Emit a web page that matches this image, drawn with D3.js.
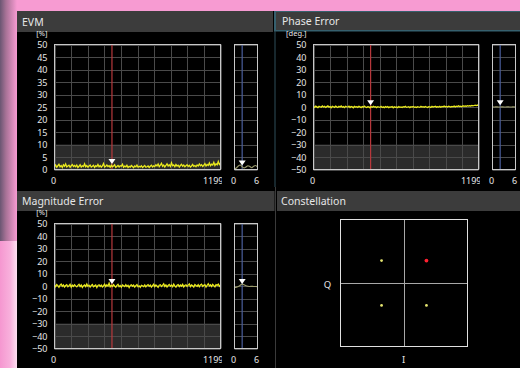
<!DOCTYPE html>
<html><head><meta charset="utf-8">
<script src="https://cdn.jsdelivr.net/npm/d3@7"></script>
<style>
html,body{margin:0;padding:0;background:#f79bd2;}
svg{display:block;}
text{font-family:"Noto Sans","Open Sans",sans-serif;}
</style></head>
<body>
<svg id="c" width="520" height="368"></svg>
<script>
// ---------------- DATA ----------------
const symbolDomain = [0, 1199];
const subDomain = [0, 6];
const evmTicks = [0,5,10,15,20,25,30,35,40,45,50];
const errTicks = [-50,-40,-30,-20,-10,0,10,20,30,40,50];

const evmValues = [
1.2,1.8,0.9,1.5,2.1,1.1,1.6,0.8,1.9,1.3,
2.2,1.0,1.4,1.7,0.9,1.5,2.0,1.2,1.6,1.1,
1.8,0.8,1.3,1.9,1.0,1.5,1.2,2.3,1.1,1.6,
0.9,1.4,1.8,1.0,1.3,1.7,0.8,1.5,1.2,2.0,
1.1,1.6,0.9,1.4,2.4,1.0,1.3,1.8,1.2,1.5,
0.9,1.7,1.1,1.4,1.9,0.8,1.2,1.6,1.0,1.5,
1.3,2.1,0.9,1.4,1.1,1.7,0.8,1.3,1.0,1.6,
1.2,0.7,1.4,1.1,1.8,0.9,1.3,1.0,1.5,0.8,
1.2,1.6,0.9,1.1,1.4,0.8,1.3,1.7,1.0,1.5,
1.2,1.9,1.4,2.2,1.1,1.7,2.5,1.3,1.8,1.0,
1.6,2.3,1.4,1.9,1.2,2.7,1.5,1.8,1.1,2.0,
1.4,1.7,1.0,1.6,2.1,1.3,1.8,1.1,1.5,1.9,
1.2,1.7,1.0,1.4,2.0,1.3,1.6,1.1,1.8,1.4,
2.2,1.5,1.9,1.2,1.7,2.4,1.4,2.0,1.6,2.6,
1.5,2.1,1.8,2.9,1.6,2.3,1.9,3.2,2.0,2.5];

const phaseValues = [
0.4,-0.3,0.7,0.1,-0.5,0.6,0.2,-0.2,0.8,0.0,
0.5,-0.4,0.3,0.9,-0.1,0.4,-0.6,0.6,0.2,-0.3,
0.7,0.1,-0.4,0.5,0.0,0.8,-0.2,0.3,-0.5,0.6,
0.2,-0.1,0.7,-0.4,0.4,0.1,-0.6,0.5,0.0,0.3,
-0.3,0.6,0.1,-0.5,0.4,-0.1,0.7,0.0,-0.4,0.3,
0.1,-0.6,0.4,-0.2,0.5,-0.1,0.2,-0.5,0.3,0.0,
-0.3,0.5,-0.4,0.1,-0.6,0.3,-0.2,0.4,-0.5,0.1,
-0.1,0.3,-0.6,0.2,-0.3,0.0,-0.5,0.4,-0.2,0.1,
-0.4,0.2,-0.1,0.5,-0.3,0.0,0.3,-0.5,0.2,-0.1,
0.4,-0.2,0.1,-0.4,0.3,0.0,-0.3,0.5,-0.1,0.2,
-0.2,0.4,0.0,-0.4,0.3,0.1,-0.3,0.5,0.0,0.2,
0.6,-0.1,0.3,0.0,0.5,-0.2,0.4,0.1,0.7,0.2,
0.4,0.0,0.6,0.3,-0.1,0.5,0.2,0.8,0.1,0.6,
0.3,0.9,0.4,0.7,0.2,1.0,0.5,0.8,0.6,1.1,
0.7,1.0,0.8,1.3,0.9,1.2,1.5,1.1,1.4,1.6];

const magValues = [
0.8,-0.5,1.2,0.3,-1.0,0.6,1.5,-0.2,0.9,-0.8,
0.4,1.1,-0.6,0.2,1.4,-0.9,0.7,-0.3,1.0,0.1,
-0.7,0.5,1.3,-0.4,0.8,-1.1,0.3,0.9,-0.5,1.6,
-0.2,0.6,-0.9,0.4,1.2,-0.6,0.1,0.8,-1.2,0.5,
1.0,-0.3,0.7,-0.8,0.2,1.4,-0.5,0.9,-0.1,2.2,
-0.7,0.6,-0.4,1.1,0.0,-0.9,0.5,1.3,-0.6,0.3,
-1.0,0.8,0.2,-0.5,1.0,-0.3,0.6,-1.3,0.4,0.9,
-0.2,0.7,-0.8,0.3,1.2,-0.6,0.1,-1.0,0.6,0.2,
-0.4,0.9,-0.7,0.5,1.1,-0.2,0.7,-0.9,0.3,1.4,
-0.5,0.8,0.0,-1.1,0.6,1.0,-0.4,0.5,1.7,-0.3,
0.9,-0.8,0.4,1.2,-0.2,0.7,-0.6,1.5,0.1,-0.9,
0.6,1.1,-0.4,0.8,-0.1,1.3,-0.7,0.5,1.0,-0.3,
0.7,1.6,-0.5,0.9,0.2,-0.8,1.2,0.4,-0.2,1.0,
-0.6,0.8,1.4,-0.3,0.5,1.1,-0.9,0.6,1.8,0.0,
0.9,-0.4,1.3,0.3,-0.7,1.0,0.5,1.5,-0.2,0.8];

const subX = [0,0.5,1,1.5,2,2.5,3,3.5,4,4.5,5,5.5,6];
const evmSub   = [0.3,0.6,1.4,1.8,1.1,0.6,1.0,1.5,1.2,0.7,1.3,1.6,1.0];
const phaseSub = [0.1,0.0,0.1,0.0,0.0,0.1,0.0,0.0,0.1,0.0,0.0,0.1,0.0];
const magSub   = [-1.2,-0.9,-0.4,0.6,1.5,1.0,0.2,-0.2,-0.4,-0.3,-0.4,-0.4,-0.5];

const markerSymbol = 415;
const markerSub = 2;
const markerEVM = 1.8, markerPhase = 0.6, markerMag = 0.8;
const markerEVMSub = 1.2, markerPhaseSub = 0.6, markerMagSub = 0.8;

const constI = [-0.707, 0.707, -0.707, 0.707];
const constQ = [0.707, 0.707, -0.707, -0.707];
const constSelected = 1;
const constDomain = [-2, 2];

// ---------------- DRAW ----------------
const svg = d3.select("#c");
const defs = svg.append("defs");

const g1 = defs.append("linearGradient").attr("id","lg1").attr("x1","0").attr("x2","1");
g1.append("stop").attr("offset","0").attr("stop-color","#6a5672");
g1.append("stop").attr("offset","0.35").attr("stop-color","#a77296");
g1.append("stop").attr("offset","1").attr("stop-color","#f79bd2");
const g2 = defs.append("linearGradient").attr("id","lg2").attr("x1","0").attr("x2","1");
g2.append("stop").attr("offset","0").attr("stop-color","#f597d0");
g2.append("stop").attr("offset","0.6").attr("stop-color","#f8b0dc");
g2.append("stop").attr("offset","1").attr("stop-color","#fde0f1");

svg.append("rect").attr("x",0).attr("y",0).attr("width",520).attr("height",368).attr("fill","#f79bd2");
svg.append("rect").attr("x",0).attr("y",0).attr("width",17).attr("height",241).attr("fill","url(#lg1)");
svg.append("rect").attr("x",0).attr("y",241).attr("width",17).attr("height",127).attr("fill","url(#lg2)");
svg.append("rect").attr("x",17).attr("y",11).attr("width",503).attr("height",357).attr("fill","#000");

const bars = [
  {x:17, y:11, w:256, h:21, t:"EVM", tx:22},
  {x:276, y:12, w:244, h:18, t:"Phase Error", tx:282},
  {x:17, y:191, w:257.5, h:20, t:"Magnitude Error", tx:22},
  {x:277, y:191, w:243, h:20, t:"Constellation", tx:281}
];
svg.append("rect").attr("x",274).attr("y",11).attr("width",246).attr("height",20.5).attr("fill","#36606e");
bars.forEach(b=>{
  svg.append("rect").attr("x",b.x).attr("y",b.y).attr("width",b.w).attr("height",b.h).attr("fill","#3c3c3c");
  svg.append("text").attr("x",b.tx).attr("y",b.y+b.h/2+4).attr("fill","#e6e6e6")
    .attr("font-size",10.5).text(b.t);
});
svg.append("line").attr("x1",275).attr("x2",275).attr("y1",31).attr("y2",187).attr("stroke","#2f4f5a");
svg.append("line").attr("x1",275.5).attr("x2",275.5).attr("y1",187).attr("y2",368).attr("stroke","#3a3a3a");

function tri(g, cx, tipY){
  g.append("path").attr("d",`M${cx-3.5},${tipY-5}L${cx+3.5},${tipY-5}L${cx},${tipY}Z`).attr("fill","#fff");
}

function errPanel(o){
  const x = d3.scaleLinear().domain(symbolDomain).range([o.left, o.right]);
  const y = d3.scaleLinear().domain(o.domain).range([o.bottom, o.top]);
  const xs = d3.scaleLinear().domain(subDomain).range([o.sLeft, o.sRight]);
  const g = svg.append("g");
  g.append("rect").attr("x",o.left).attr("width",o.right-o.left)
    .attr("y",y(o.shade[1])).attr("height",y(o.shade[0])-y(o.shade[1])).attr("fill","#2b2b2b");
  const vt = d3.range(11).map(i=>symbolDomain[0]+i*(symbolDomain[1]-symbolDomain[0])/10);
  g.selectAll(".v").data(vt).join("line").attr("x1",d=>Math.round(x(d))+0.5).attr("x2",d=>Math.round(x(d))+0.5)
    .attr("y1",o.top).attr("y2",o.bottom).attr("stroke","#4a4a4a");
  g.selectAll(".h").data(o.ticks).join("line").attr("x1",o.left).attr("x2",o.right)
    .attr("y1",d=>Math.round(y(d))+0.5).attr("y2",d=>Math.round(y(d))+0.5).attr("stroke","#4a4a4a");
  g.selectAll(".hs").data(o.ticks).join("line").attr("x1",o.sLeft).attr("x2",o.sRight)
    .attr("y1",d=>Math.round(y(d))+0.5).attr("y2",d=>Math.round(y(d))+0.5).attr("stroke","#4a4a4a");
  g.append("line").attr("x1",x(markerSymbol)).attr("x2",x(markerSymbol)).attr("y1",o.top).attr("y2",o.bottom)
    .attr("stroke","#b8383c").attr("stroke-width",1.2);
  g.append("line").attr("x1",xs(markerSub)).attr("x2",xs(markerSub)).attr("y1",o.top).attr("y2",o.bottom)
    .attr("stroke","#4a5e9c").attr("stroke-width",1.2);
  const line = d3.line().x((d,i)=>x(symbolDomain[0]+i*(symbolDomain[1]-symbolDomain[0])/(o.values.length-1))).y(d=>y(d));
  g.append("path").attr("d",line(o.values)).attr("fill","none").attr("stroke","#eaea1e").attr("stroke-width",1.3);
  const sline = d3.line().x((d,i)=>xs(subX[i])).y(d=>y(d)).curve(d3.curveMonotoneX);
  g.append("path").attr("d",sline(o.sub)).attr("fill","none").attr("stroke","#9a9a6c").attr("stroke-width",1.2);
  g.append("rect").attr("x",o.left).attr("y",o.top).attr("width",o.right-o.left).attr("height",o.bottom-o.top)
    .attr("fill","none").attr("stroke","#c8c8c8");
  g.append("rect").attr("x",o.sLeft).attr("y",o.top).attr("width",o.sRight-o.sLeft).attr("height",o.bottom-o.top)
    .attr("fill","none").attr("stroke","#c8c8c8");
  tri(g, x(markerSymbol), y(o.mk)-1);
  tri(g, xs(markerSub), y(o.mks)-1);
  const ax = g.append("g").attr("transform",`translate(${o.left},0)`)
    .call(d3.axisLeft(y).tickValues(o.ticks).tickSize(0).tickPadding(7));
  ax.select(".domain").remove();
  ax.selectAll("text").attr("fill","#e6e6e6").attr("font-size",9).attr("font-family","Noto Sans, sans-serif").attr("dy","0.34em");
  g.append("text").attr("x",o.left-7).attr("y",o.top-8.5).attr("text-anchor","end").attr("font-size",7.5)
    .attr("fill","#e6e6e6").text(o.unit);
  const ly = o.bottom + 14.5;
  const clipId = "clip"+o.id;
  defs.append("clipPath").attr("id",clipId).append("rect").attr("x",o.left).attr("y",ly-12).attr("width",o.right-o.left+1.5).attr("height",16);
  g.append("text").attr("x",x(symbolDomain[0])-1).attr("y",ly).attr("text-anchor","middle").attr("font-size",9).attr("fill","#e6e6e6").text(symbolDomain[0]);
  g.append("text").attr("x",o.right+3).attr("y",ly).attr("text-anchor","end").attr("font-size",9).attr("fill","#e6e6e6")
    .attr("clip-path",`url(#${clipId})`).text(symbolDomain[1]);
  g.append("text").attr("x",xs(subDomain[0])-1).attr("y",ly).attr("text-anchor","middle").attr("font-size",9).attr("fill","#e6e6e6").text(subDomain[0]);
  g.append("text").attr("x",xs(subDomain[1])-1).attr("y",ly).attr("text-anchor","middle").attr("font-size",9).attr("fill","#e6e6e6").text(subDomain[1]);
}

errPanel({id:1,left:54.5,right:220.5,sLeft:234.5,sRight:257.5,top:44.5,bottom:169.5,domain:[0,50],ticks:evmTicks,
  shade:[0,10],values:evmValues,sub:evmSub,mk:markerEVM,mks:markerEVMSub,unit:"[%]"});
errPanel({id:2,left:313.5,right:478.5,sLeft:492.5,sRight:515.5,top:44.5,bottom:169.5,domain:[-50,50],ticks:errTicks,
  shade:[-50,-30],values:phaseValues,sub:phaseSub,mk:markerPhase,mks:markerPhaseSub,unit:"[deg.]"});
errPanel({id:3,left:54.5,right:220.5,sLeft:234.5,sRight:257.5,top:223.5,bottom:348.5,domain:[-50,50],ticks:errTicks,
  shade:[-50,-30],values:magValues,sub:magSub,mk:markerMag,mks:markerMagSub,unit:"[%]"});

const cx = d3.scaleLinear().domain(constDomain).range([340.5,467.5]);
const cy = d3.scaleLinear().domain(constDomain).range([346.5,219.5]);
const cg = svg.append("g");
cg.append("line").attr("x1",Math.round(cx(0))+0.5).attr("x2",Math.round(cx(0))+0.5).attr("y1",cy(constDomain[1])).attr("y2",cy(constDomain[0])).attr("stroke","#a8a8a8");
cg.append("line").attr("y1",Math.round(cy(0))+0.5).attr("y2",Math.round(cy(0))+0.5).attr("x1",cx(constDomain[0])).attr("x2",cx(constDomain[1])).attr("stroke","#a8a8a8");
cg.append("rect").attr("x",cx(constDomain[0])).attr("y",cy(constDomain[1])).attr("width",cx(constDomain[1])-cx(constDomain[0]))
  .attr("height",cy(constDomain[0])-cy(constDomain[1])).attr("fill","none").attr("stroke","#e0e0e0");
cg.selectAll("circle").data(constI).join("circle").attr("cx",d=>cx(d)).attr("cy",(d,i)=>cy(constQ[i]))
  .attr("r",(d,i)=>i===constSelected?1.9:1.4).attr("fill",(d,i)=>i===constSelected?"#ff2030":"#e4e470");
cg.append("text").attr("x",327.5).attr("y",287.5).attr("text-anchor","middle").attr("font-size",9.5).attr("fill","#e6e6e6").text("Q");
cg.append("text").attr("x",403.5).attr("y",363).attr("text-anchor","middle").attr("font-size",9.5).attr("fill","#e6e6e6").text("I");
</script>
</body></html>
